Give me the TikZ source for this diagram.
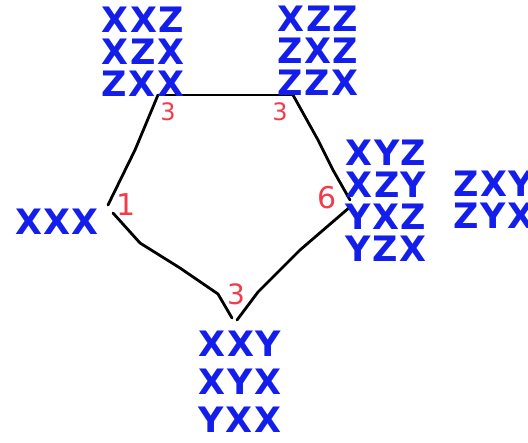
\documentclass[tikz,border=0pt]{standalone}
\usepackage{fontspec}
\setmainfont{DejaVu Sans}[LetterSpace=4]
\definecolor{penblue}{RGB}{20,30,235}
\definecolor{penred}{RGB}{240,60,75}
\tikzset{
	perms/.style={text=penblue, align=center, inner sep=0pt,
		font=\bfseries\fontsize{35}{32}\selectfont},
	count/.style={text=penred, inner sep=0pt, font=\fontsize{24}{24}\selectfont},
	side/.style={line width=2.8pt, line cap=round, line join=round}
}
\begin{document}
\begin{tikzpicture}[x=1pt,y=-1pt]
	\useasboundingbox (0,0) rectangle (528,443);
	% corners of the pentagon, each split in two ends
	\coordinate (tl) at (158,95);
	\coordinate (tr) at (293,95);
	\coordinate (ra) at (350,200);
	\coordinate (rb) at (350,207);
	\coordinate (ba) at (232,318);
	\coordinate (bb) at (237,320);
	\coordinate (la) at (108,205);
	\coordinate (lb) at (113,213);
	\draw[side] (tl) -- (tr);
	\draw[side] (tr) -- (318,140) -- (333,170) -- (ra);
	\draw[side] (rb) -- (300,250) -- (258,292) -- (bb);
	\draw[side] (lb) -- (140,243) -- (180,268) -- (218,294) -- (ba);
	\draw[side] (la) -- (135,150) -- (tl);
	% counts
	\node[count] (ntl) at (168,112) {3};
	\node[count] (ntr) at (280,112) {3};
	\node[count, font=\fontsize{30}{30}\selectfont] (nr) at (327,198) {6};
	\node[count, font=\fontsize{30}{30}\selectfont] (nl) at (126,205) {1};
	\node[count, font=\fontsize{28}{28}\selectfont] (nb) at (236,294) {3};
	% arrangements
	\node[perms] (ptl) at (143,52) {XXZ\\XZX\\ZXX};
	\node[perms] (ptr) at (318,51) {XZZ\\ZXZ\\ZZX};
	\node[perms] (pr) at (386,201) {XYZ\\XZY\\YXZ\\YZX};
	\node[perms] (pfar) at (494,200) {ZXY\\ZYX};
	\node[perms] (pl) at (57,222) {XXX};
	\node[perms, font=\bfseries\fontsize{35}{38}\selectfont] (pb) at (240,382) {XXY\\XYX\\YXX};
\end{tikzpicture}
\end{document}
